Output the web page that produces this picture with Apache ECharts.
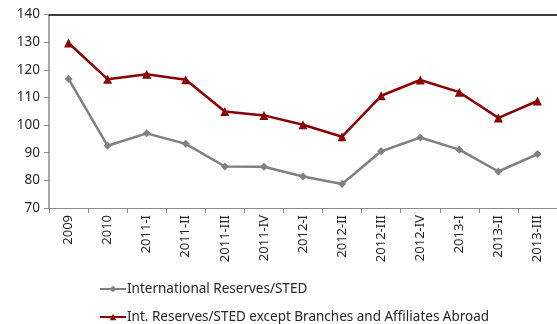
<!DOCTYPE html>
<html>
<head>
<meta charset="utf-8">
<script src="https://cdn.jsdelivr.net/npm/echarts@6/dist/echarts.min.js"></script>
<style>
  html, body { margin: 0; padding: 0; background: #fff; }
  #chart { width: 557px; height: 324px; }
</style>
</head>
<body>
<div id="chart"></div>
<script>
// quarters on the x axis
const categories = ["2009", "2010", "2011-I", "2011-II", "2011-III", "2011-IV",
  "2012-I", "2012-II", "2012-III", "2012-IV", "2013-I", "2013-II", "2013-III"];

// International Reserves / STED
const reservesSted = [116.7, 92.5, 97.0, 93.2, 85.0, 84.9, 81.4, 78.7, 90.5, 95.5, 91.1, 83.2, 89.5];

// Int. Reserves / STED except branches and affiliates abroad
const reservesStedExcl = [129.7, 116.6, 118.4, 116.4, 104.9, 103.5, 100.1, 95.8, 110.6, 116.3, 111.9, 102.6, 108.7];

const seriesNames = ["International Reserves/STED",
  "Int. Reserves/STED except Branches and Affiliates Abroad"];

const font = "'Noto Sans', 'DejaVu Sans', sans-serif";

const legendText = { fontFamily: font, fontSize: 13.5, color: "#262626" };

const chart = echarts.init(document.getElementById("chart"));

// one legend per row so they stack like the original
const legends = seriesNames.map((name, i) => ({
  orient: "horizontal",
  left: 94,
  top: 277 + i * 28,
  itemWidth: 26,
  itemHeight: 8,
  itemGap: 0,
  textStyle: Object.assign({ padding: [0, 0, 0, -4] }, legendText),
  data: [name],
}));

chart.setOption({
  animation: false,
  grid: {
    left: 49,
    right: -6,
    top: 14.5,
    bottom: 116,
    containLabel: false,
  },
  legend: legends,
  xAxis: [
    {
      type: "category",
      data: categories,
      boundaryGap: true,
      axisLine: { lineStyle: { color: "#8c8c8c", width: 1 } },
      axisTick: { show: true, length: 5, lineStyle: { color: "#8c8c8c" } },
      axisLabel: {
        rotate: 90,
        margin: 7,
        fontFamily: font,
        fontSize: 13,
        color: "#262626",
      },
    },
    {
      // black line along the top of the plot
      type: "category",
      position: "top",
      data: categories,
      axisLine: { show: true, lineStyle: { color: "#000", width: 1.5 } },
      axisTick: { show: false },
      axisLabel: { show: false },
    },
  ],
  yAxis: {
    type: "value",
    min: 70,
    max: 140,
    interval: 10,
    axisLine: { show: true, lineStyle: { color: "#8c8c8c", width: 1.5 } },
    axisTick: { show: true, length: 5, lineStyle: { color: "#8c8c8c" } },
    splitLine: { show: false },
    axisLabel: {
      margin: 9,
      fontFamily: font,
      fontSize: 13.5,
      color: "#262626",
    },
  },
  series: [
    {
      name: seriesNames[0],
      type: "line",
      data: reservesSted,
      symbol: "diamond",
      symbolSize: 8,
      itemStyle: { color: "#808080" },
      lineStyle: { color: "#808080", width: 2.5 },
    },
    {
      name: seriesNames[1],
      type: "line",
      data: reservesStedExcl,
      symbol: "triangle",
      symbolSize: 9,
      itemStyle: { color: "#8b0000" },
      lineStyle: { color: "#8b0000", width: 2.5 },
    },
  ],
});
</script>
</body>
</html>
